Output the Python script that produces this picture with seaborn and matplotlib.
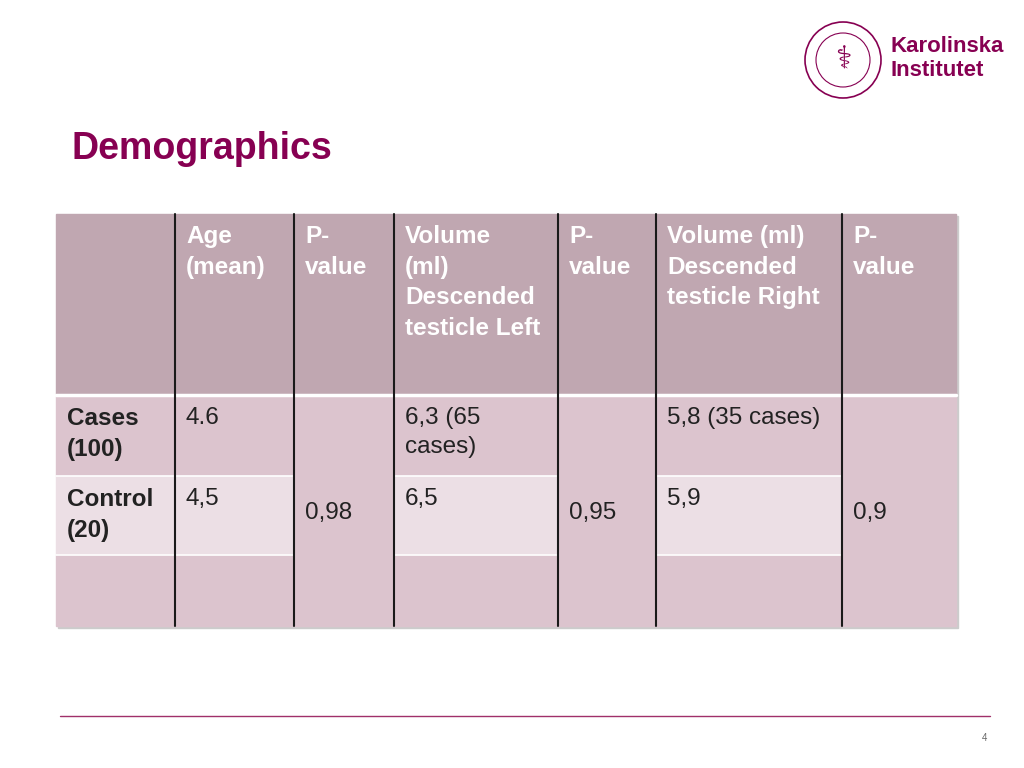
import matplotlib
matplotlib.use("Agg")
import matplotlib.pyplot as plt
import seaborn as sns
from matplotlib.patches import Rectangle, Circle

sns.set_theme(style="white")

header = ["", "Age\n(mean)", "P-\nvalue", "Volume\n(ml)\nDescended\ntesticle Left", "P-\nvalue",
          "Volume (ml)\nDescended\ntesticle Right", "P-\nvalue"]
row_labels = ["Cases\n(100)", "Control\n(20)", ""]
age = ["4.6", "4,5", ""]
vol_left = ["6,3 (65\ncases)", "6,5", ""]
vol_right = ["5,8 (35 cases)", "5,9", ""]
p_age, p_left, p_right = "0,98", "0,95", "0,9"

col_x = [56, 175, 294, 394, 558, 656, 842, 956]
row_y = [214, 395, 476, 555, 626]

fig = plt.figure(figsize=(10.24, 7.68), dpi=100)
ax = fig.add_axes([0, 0, 1, 1])
ax.set_xlim(0, 1024); ax.set_ylim(768, 0); ax.axis("off")

hdr_c, r1_c, r2_c, r3_c, merged_c = "#c0a7b1", "#dcc4ce", "#ecdfe5", "#dcc4ce", "#dcc4ce"
font = "Liberation Sans"
fs = 17.5
ls = 1.42
# shadow
ax.add_patch(Rectangle((58, 216), 900, 412, color="#cccccc", zorder=0))
for i in range(7):
    x0, x1 = col_x[i], col_x[i + 1]
    ax.add_patch(Rectangle((x0, row_y[0]), x1 - x0, row_y[1] - row_y[0], color=hdr_c, zorder=1))
    ax.text(x0 + 11, 225, header[i], va="top", ha="left", fontsize=fs, color="white",
            fontweight="bold", family=font, linespacing=ls, zorder=3)
    if i in (2, 4, 6):
        ax.add_patch(Rectangle((x0, row_y[1]), x1 - x0, row_y[4] - row_y[1], color=merged_c, zorder=1))
        txt = {2: p_age, 4: p_left, 6: p_right}[i]
        ax.text(x0 + 11, 513, txt, va="center", ha="left", fontsize=fs, color="#222222", family=font, zorder=3)
    else:
        for r, c in enumerate([r1_c, r2_c, r3_c]):
            ax.add_patch(Rectangle((x0, row_y[r + 1]), x1 - x0, row_y[r + 2] - row_y[r + 1], color=c, zorder=1))
            ax.plot([x0, x1], [row_y[r + 1], row_y[r + 1]], color="white", lw=1.2, zorder=2)
        vals = {0: row_labels, 1: age, 3: vol_left, 5: vol_right}[i]
        for r, v in enumerate(vals):
            ax.text(x0 + 11, row_y[r + 1] + 12, v, va="top", ha="left", fontsize=fs, color="#222222",
                    family=font, fontweight="bold" if i == 0 else "normal", linespacing=ls, zorder=3)
ax.plot([56, 956], [395, 395], color="white", lw=2.5, zorder=2)
for x in col_x[1:-1]:
    ax.plot([x, x], [214, 626], color="#1a1a1a", lw=1.5, zorder=2)

ax.text(72, 149, "Demographics", fontsize=27, fontweight="bold", color="#870052", family=font, va="center")
ax.plot([60, 990], [716, 716], color="#a0306a", lw=1)
ax.text(985, 738, "4", fontsize=7, color="#666666", family=font, ha="center", va="center")

# logo
ax.add_patch(Circle((843, 60), 38, fill=False, ec="#870052", lw=1.2))
ax.add_patch(Circle((843, 60), 27, fill=False, ec="#870052", lw=0.8))
ax.text(843, 60, "⚕", fontsize=22, color="#870052", ha="center", va="center", family="DejaVu Sans")
ax.text(890, 46, "Karolinska", fontsize=16, fontweight="bold", color="#870052", family=font, va="center")
ax.text(890, 71, "Institutet", fontsize=16, fontweight="bold", color="#870052", family=font, va="center")

fig.savefig("out.png", dpi=100)
